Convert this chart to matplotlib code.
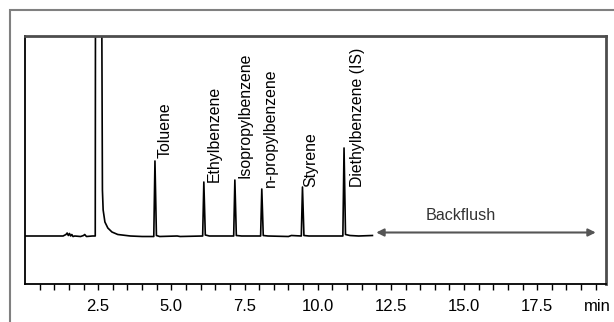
import matplotlib
matplotlib.use("Agg")
import matplotlib.pyplot as plt
from matplotlib.patches import Rectangle
from matplotlib.ticker import FixedLocator, FixedFormatter

plt.rcParams["font.family"] = ["Liberation Sans", "DejaVu Sans"]

# ---------- Daten ----------
# Spur: Zeit in min, Signal in willkürlichen Einheiten (Basislinie = 0)
trace_time = [0.0, 1.30, 1.40, 1.44, 1.48, 1.52, 1.56, 1.60, 1.64, 1.70, 1.90, 2.00, 2.04, 2.10, 2.30,
              2.40, 2.42, 2.60, 2.62, 2.645, 2.67, 2.73, 2.83, 2.97, 3.17, 3.60, 4.00,
              4.40, 4.44, 4.49, 4.60, 5.20, 5.30, 6.07, 6.11, 6.16, 6.30,
              7.13, 7.17, 7.22, 7.40, 8.05, 8.09, 8.14, 8.30, 9.00, 9.10,
              9.44, 9.48, 9.53, 9.70, 10.86, 10.90, 10.95, 11.10, 11.40, 11.87]
trace_signal = [0.0, 0.0, 1.5, 3.0, 0.5, 2.5, 0.0, 1.5, -0.5, 0.0, -0.5, 0.5, 1.5, -0.5, 0.0,
                0.0, 600, 600, 250, 46, 26, 14, 8, 4, 1.5, 0.0, -0.5,
                -0.5, 75, 0.5, -0.5, 0.0, -0.5, 0.0, 54, 1.0, 0.0,
                0.0, 56, 0.5, 0.0, 0.0, 47, 0.5, 0.0, -0.5, 0.5,
                0.0, 49, 0.5, 0.0, 0.0, 88, 1.5, 0.5, 0.0, 0.5]

# Peak-Beschriftungen: Position (min), Unterkante (Signal)
peak_names = ["Toluene", "Ethylbenzene", "Isopropylbenzene", "n-propylbenzene",
              "Styrene", "Diethylbenzene (IS)"]
label_time = [4.80, 6.45, 7.50, 8.40, 9.78, 11.37]
label_bottom = [78, 54, 58, 49, 49, 49]

major_ticks = [2.5, 5.0, 7.5, 10.0, 12.5, 15.0, 17.5]
major_labels = ["2.5", "5.0", "7.5", "10.0", "12.5", "15.0", "17.5"]
minor_ticks = [0.5, 1.0, 1.5, 2.0, 3.0, 3.5, 4.0, 4.5, 5.5, 6.0, 6.5, 7.0, 8.0, 8.5, 9.0, 9.5,
               10.5, 11.0, 11.5, 12.0, 13.0, 13.5, 14.0, 14.5, 15.5, 16.0, 16.5, 17.0,
               18.0, 18.5, 19.0, 19.5]

backflush_start = 12.0
backflush_end = 19.5

# ---------- Figur ----------
fig = plt.figure(figsize=(6.14, 3.22), dpi=100)
ax = fig.add_axes([25 / 614, 1 - 284 / 322, 581 / 614, 248 / 322])

# äußerer Rahmen
fig.patches.append(Rectangle((10 / 614, -0.5), 2.0, 0.5 + 1 - 10 / 322,
                             transform=fig.transFigure, fill=False,
                             edgecolor="#808080", lw=1.5))

ax.plot(trace_time, trace_signal, color="black", lw=1.2)

for name, t, b in zip(peak_names, label_time, label_bottom):
    ax.text(t, b, name, rotation=90, ha="center", va="bottom", fontsize=11.4)

ax.annotate("", xy=(backflush_end, 3.5), xytext=(backflush_start, 3.5),
            arrowprops=dict(arrowstyle="<|-|>", color="#555555", lw=1.5,
                            mutation_scale=11, shrinkA=0, shrinkB=0))
ax.text((backflush_start + backflush_end) / 2 - 0.85, 21, "Backflush",
        ha="center", va="center", fontsize=11.6, color="#333333")

ax.set_xlim(0, 19.85)
ax.set_ylim(-48, 200)
ax.set_yticks([])

ax.xaxis.set_major_locator(FixedLocator(major_ticks))
ax.xaxis.set_major_formatter(FixedFormatter(major_labels))
ax.xaxis.set_minor_locator(FixedLocator(minor_ticks))
ax.tick_params(axis="x", which="both", direction="out", length=4, width=1, pad=7,
               labelsize=12)

ax.text(19.55, -0.089, "min", transform=ax.get_xaxis_transform(),
        ha="center", va="center", fontsize=12)

for side in ["top", "right"]:
    ax.spines[side].set_color("#4d4d4d")
    ax.spines[side].set_linewidth(2.0)
for side in ["left", "bottom"]:
    ax.spines[side].set_color("black")
    ax.spines[side].set_linewidth(1.3)

fig.savefig("out.png", dpi=100)
